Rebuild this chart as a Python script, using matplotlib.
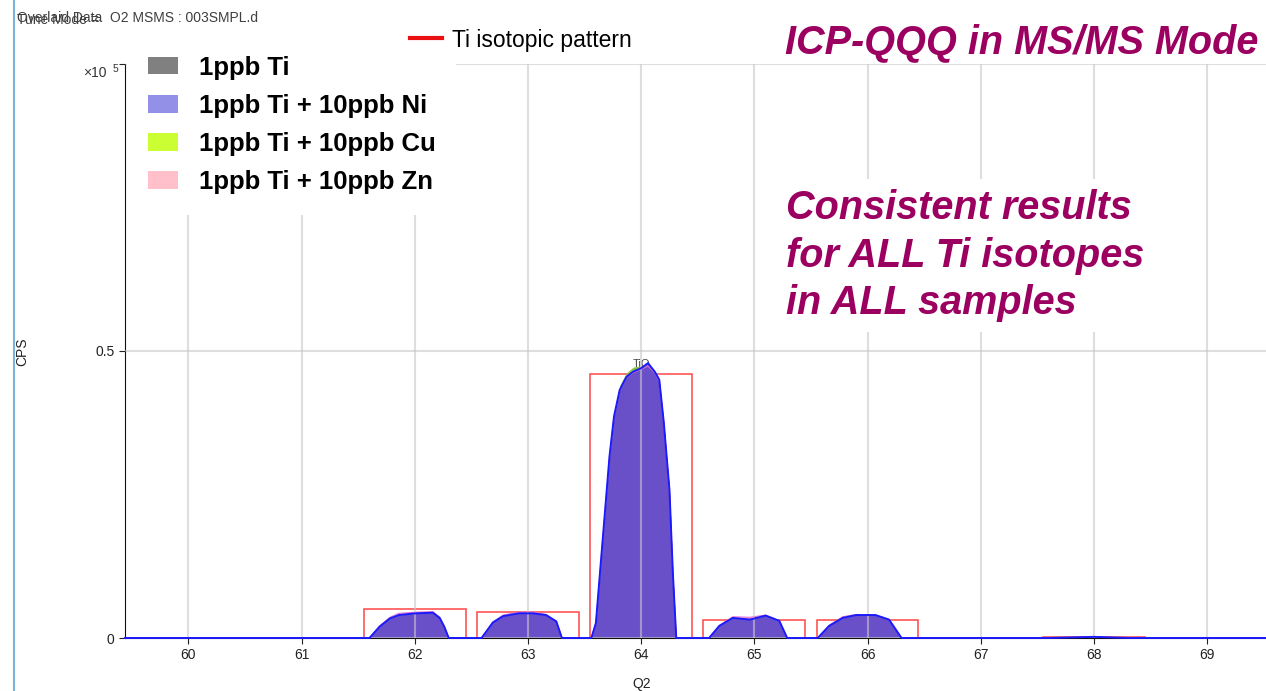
import matplotlib.pyplot as plt
from matplotlib.patches import Patch
from matplotlib.lines import Line2D

plt.rcParams['font.family'] = ['Liberation Sans', 'DejaVu Sans']

# Scan data (CPS in units of 1e5).
q2 = [59.44,
      61.60, 61.69, 61.78, 61.86, 62.01, 62.16, 62.22, 62.26, 62.30,
      62.59, 62.69, 62.78, 62.92, 63.04, 63.16, 63.25, 63.30,
      63.56, 63.60, 63.66, 63.72, 63.76, 63.81, 63.87, 63.93, 64.00,
      64.06, 64.12, 64.16, 64.20, 64.25, 64.28, 64.31,
      64.60, 64.69, 64.81, 64.96, 65.10, 65.22, 65.29,
      65.56, 65.66, 65.78, 65.90, 66.07, 66.19, 66.30,
      67.60, 67.80, 68.00, 68.30,
      69.52]

cps_ti = [0,
          0, .019, .033, .039, .042, .043, .034, .019, 0,
          0, .026, .037, .042, .042, .039, .028, 0,
          0, .026, .168, .312, .382, .428, .452, .460, .466,
          .474, .460, .446, .372, .255, .110, 0,
          0, .020, .034, .031, .038, .029, 0,
          0, .020, .034, .039, .039, .031, 0,
          0, .001, .002, 0,
          0]

cps_ni = [0,
          0, .020, .034, .040, .043, .044, .035, .020, 0,
          0, .027, .038, .043, .043, .040, .029, 0,
          0, .026, .171, .316, .386, .432, .455, .464, .470,
          .479, .464, .450, .375, .258, .113, 0,
          0, .021, .035, .032, .039, .030, 0,
          0, .021, .035, .040, .040, .032, 0,
          0, .001, .002, 0,
          0]

cps_cu = [0,
          0, .020, .034, .040, .043, .043, .034, .020, 0,
          0, .027, .038, .043, .043, .040, .029, 0,
          0, .026, .170, .315, .386, .440, .462, .472, .474,
          .476, .462, .448, .374, .256, .112, 0,
          0, .021, .035, .033, .039, .030, 0,
          0, .021, .036, .040, .040, .032, 0,
          0, .001, .002, 0,
          0]

cps_zn = [0,
          0, .021, .036, .043, .045, .046, .036, .020, 0,
          0, .028, .040, .045, .045, .041, .029, 0,
          0, .026, .170, .314, .384, .430, .454, .462, .468,
          .474, .462, .448, .374, .256, .112, 0,
          0, .022, .037, .036, .040, .030, 0,
          0, .022, .037, .041, .040, .032, 0,
          0, .001, .002, 0,
          0]

# Theoretical Ti isotopic pattern (TiO+ masses)
pattern_q2 = [62, 63, 64, 65, 66, 67, 68]
pattern_cps = [0.0505, 0.0455, 0.460, 0.032, 0.032, 0.0005, 0.001]

sample_labels = ['1ppb Ti', '1ppb Ti + 10ppb Ni',
                 '1ppb Ti + 10ppb Cu', '1ppb Ti + 10ppb Zn']
sample_colors = ['#808080', '#9390e8', '#ccff33', '#ffc0cb']
x_ticks = [60, 61, 62, 63, 64, 65, 66, 67, 68, 69]

W, H = 1266, 691
fig = plt.figure(figsize=(W / 100, H / 100), dpi=100)
ax = fig.add_axes([125 / W, 1 - 638 / H, 1 - 125 / W, (638 - 64) / H])

# Isotopic pattern boxes
ax.bar(pattern_q2, pattern_cps, width=0.9, fill=False,
       edgecolor='#ff5555', linewidth=1.2, zorder=0.9)

# Overlaid spectra
ax.fill_between(q2, cps_ti, color='#808080', lw=0, zorder=1)
ax.fill_between(q2, cps_zn, color='#f080c0', lw=0, zorder=1.1)
ax.fill_between(q2, cps_cu, color='#88c040', lw=0, zorder=1.2)
ax.fill_between(q2, cps_ni, color='#6a50c8', lw=0, zorder=1.3)
ax.plot(q2, cps_zn, color='#e070d0', lw=0.8, zorder=1.4)
ax.plot(q2, cps_ni, color='#1a1aff', lw=1.4, zorder=3, clip_on=False)

ax.text(64.0, 0.468, 'TiO', fontsize=8, color='#444444',
        ha='center', va='bottom', zorder=0.95)

ax.set_xlim(59.44, 69.52)
ax.set_ylim(0, 1.0)
ax.set_xticks(x_ticks)
ax.set_xticklabels([str(t) for t in x_ticks])
ax.set_yticks([0, 0.5, 1.0])
ax.set_yticklabels(['0', '0.5', ''])
ax.tick_params(direction='out', length=4, labelsize=10,
               labelcolor='#222222', color='#222222')
ax.set_axisbelow(False)
ax.grid(True, color='#c8c8c8', alpha=0.6, lw=1.5)
for side in ['top', 'right']:
    ax.spines[side].set_visible(False)
ax.spines['left'].set_color('#111111')
ax.spines['bottom'].set_color('#111111')

ax.set_xlabel('Q2', fontsize=10, color='#222222')
ax.xaxis.set_label_coords((642 - 125) / (W - 125), -(677 - 638) / (638 - 64))
fig.text(22 / W, 1 - 352 / H, 'CPS', rotation=90, fontsize=10,
         color='#222222', ha='center', va='center')

# Sample legend
handles = [Patch(facecolor=c, edgecolor='none') for c in sample_colors]
leg = ax.legend(handles, sample_labels, loc='upper left',
                bbox_to_anchor=(127 / W, 1 - 35 / H),
                bbox_transform=fig.transFigure, borderaxespad=0,
                prop={'weight': 'bold', 'size': 18.5},
                handlelength=1.2, handleheight=0.68, handletextpad=0.8,
                labelspacing=0.55, borderpad=0.8,
                frameon=True, facecolor='white', edgecolor='none',
                framealpha=1, fancybox=False)
leg.set_zorder(5)
ax.add_artist(leg)

fig.legend([Line2D([0], [0], color='#e81010', lw=3)], ['Ti isotopic pattern'],
           loc='center left', bbox_to_anchor=(410 / W, 1 - 40 / H),
           borderaxespad=0, borderpad=0, frameon=False,
           fontsize=16.5, handlelength=1.4, handletextpad=0.44)

# Header texts
fig.text(17 / W, 1 - 18 / H, 'Overlaid Data', fontsize=10, color='#404040',
         va='center')
fig.text(17 / W, 1 - 20 / H, 'Tune Mode =', fontsize=10, color='#404040',
         va='center')
fig.text(110 / W, 1 - 18 / H, 'O2 MSMS : 003SMPL.d', fontsize=10,
         color='#404040', va='center')
fig.text(83 / W, 1 - 73 / H, '×10', fontsize=10, color='#333333', va='center')
fig.text(113 / W, 1 - 69 / H, '5', fontsize=7.5, color='#333333', va='center')

# Left window border
fig.add_artist(Line2D([14 / W, 14 / W], [0, 1], color='#7ab4dc', lw=1.5,
                      transform=fig.transFigure))

title_color = '#9b0060'
fig.text(1258 / W, 1 - 53 / H, 'ICP-QQQ in MS/MS Mode', fontsize=28.5,
         fontweight='bold', fontstyle='italic', color=title_color,
         ha='right', va='baseline')
ax.text((786 - 125) / (W - 125), (638 - 189) / (638 - 64),
        'Consistent results\nfor ALL Ti isotopes\nin ALL samples',
        transform=ax.transAxes, fontsize=28.5, fontweight='bold',
        fontstyle='italic', color=title_color, ha='left', va='top',
        linespacing=1.32, zorder=4,
        bbox=dict(boxstyle='square,pad=0.25', facecolor='white',
                  edgecolor='none'))

fig.savefig('out.png', dpi=100)
